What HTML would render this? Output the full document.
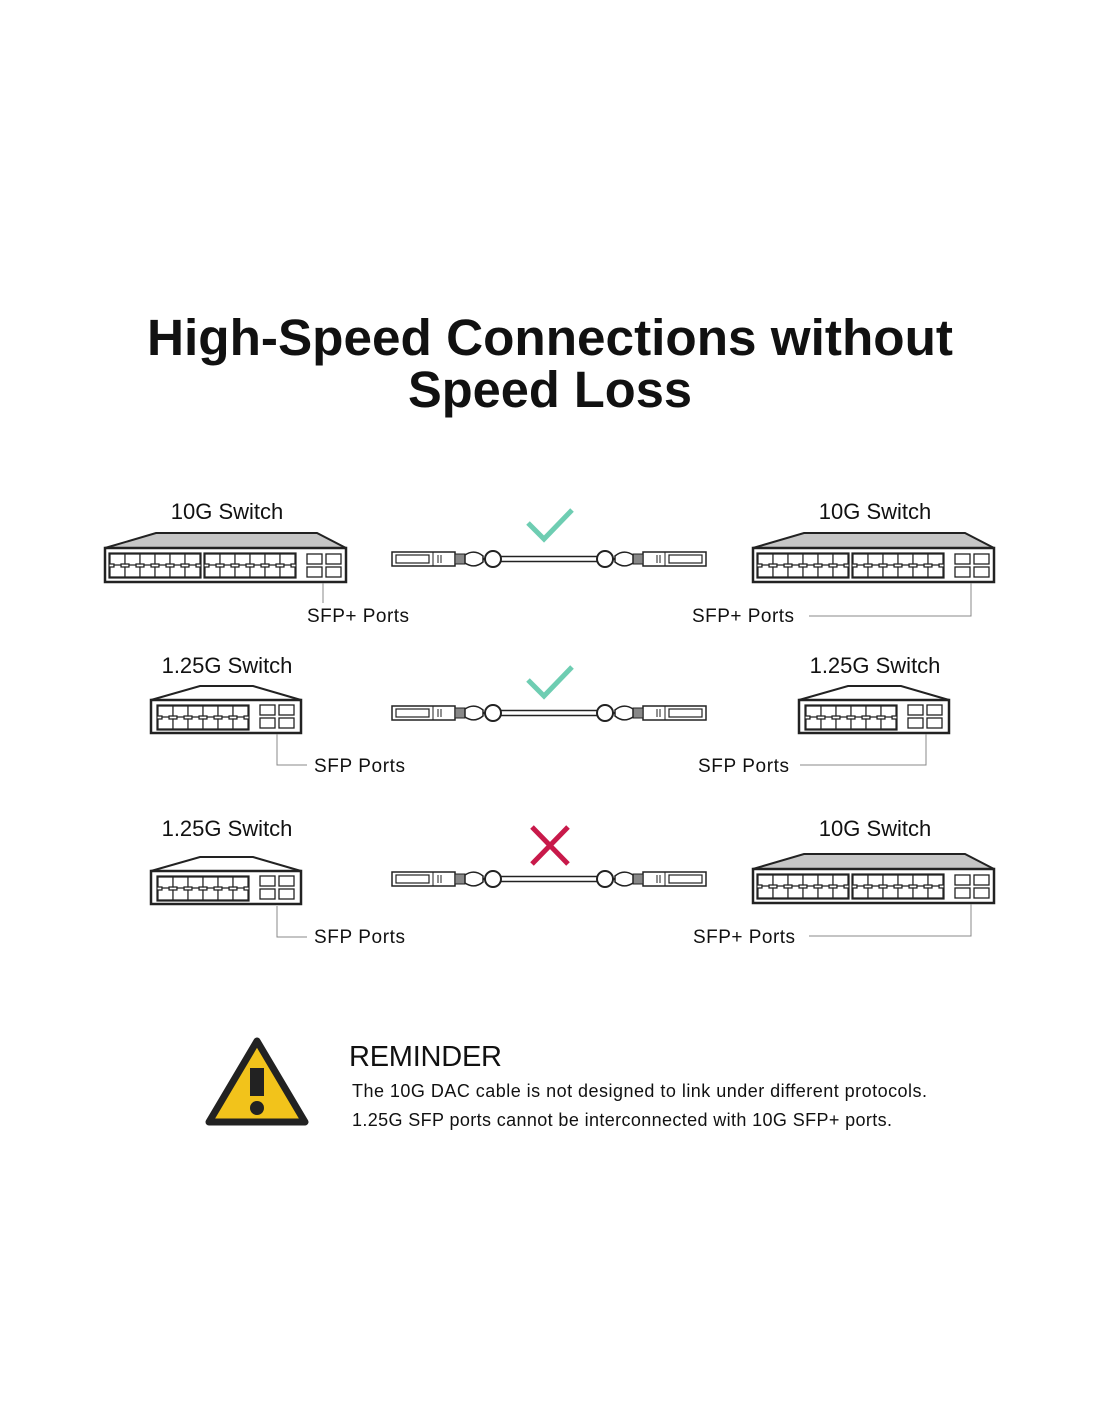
<!DOCTYPE html>
<html><head><meta charset="utf-8"><style>
html,body{margin:0;padding:0;background:#fff;}
body{width:1100px;height:1422px;overflow:hidden;}
svg text{font-family:"Liberation Sans",Arial,sans-serif;}
</style></head><body>
<svg width="1100" height="1422" viewBox="0 0 1100 1422" xmlns="http://www.w3.org/2000/svg">
<defs>
<g id="p"><path d="M0,0 h15 v10 h-4 v2 h-7 v-2 h-4 z" fill="#fff" stroke="#222" stroke-width="1.2"/></g>
<g id="p2"><path d="M0,11 h15 v-10 h-4 v-2 h-7 v2 h-4 z" fill="#fff" stroke="#222" stroke-width="1.2" transform="translate(0,1)"/></g>
<g id="grp6">
  <use href="#p" x="0" y="0"/><use href="#p" x="15" y="0"/><use href="#p" x="30" y="0"/><use href="#p" x="45" y="0"/><use href="#p" x="60" y="0"/><use href="#p" x="75" y="0"/>
  <use href="#p2" x="0" y="11"/><use href="#p2" x="15" y="11"/><use href="#p2" x="30" y="11"/><use href="#p2" x="45" y="11"/><use href="#p2" x="60" y="11"/><use href="#p2" x="75" y="11"/>
  <rect x="-1" y="-1" width="92" height="25" fill="none" stroke="#222" stroke-width="1.2"/>
</g>
<g id="sfp">
  <rect x="0" y="0" width="15" height="10" fill="#fff" stroke="#222" stroke-width="1.3"/>
  <rect x="19" y="0" width="15" height="10" fill="#fff" stroke="#222" stroke-width="1.3"/>
  <rect x="0" y="13" width="15" height="10" fill="#fff" stroke="#222" stroke-width="1.3"/>
  <rect x="19" y="13" width="15" height="10" fill="#fff" stroke="#222" stroke-width="1.3"/>
</g>
<g id="sw10">
  <path d="M1,0 L52,-15 L213,-15 L242,0 Z" fill="#c6c6c6" stroke="#222" stroke-width="2"/>
  <rect x="1" y="0" width="241" height="34" fill="#fff" stroke="#222" stroke-width="2.5"/>
  <use href="#grp6" x="6" y="6"/>
  <use href="#grp6" x="101" y="6"/>
  <use href="#sfp" x="203" y="6"/>
</g>
<g id="sw1">
  <path d="M1,0 L50,-14 L103,-14 L151,0 Z" fill="#fff" stroke="#222" stroke-width="2"/>
  <rect x="1" y="0" width="150" height="33" fill="#fff" stroke="#222" stroke-width="2.5"/>
  <use href="#grp6" x="8" y="6"/>
  <use href="#sfp" x="110" y="5"/>
</g>
<g id="half">
  <rect x="1" y="-7" width="63" height="14" fill="#fff" stroke="#222" stroke-width="1.5"/>
  <rect x="5" y="-4" width="33" height="8" fill="#fff" stroke="#222" stroke-width="1.2"/>
  <line x1="42" y1="-7" x2="42" y2="7" stroke="#222" stroke-width="1"/>
  <line x1="47" y1="-4" x2="47" y2="4" stroke="#222" stroke-width="1"/>
  <line x1="50" y1="-4" x2="50" y2="4" stroke="#222" stroke-width="1"/>
  <rect x="64" y="-5" width="10" height="10" fill="#888" stroke="#222" stroke-width="1"/>
  <path d="M74,-4 C80,-8 86,-8 92,-3 L92,3 C86,8 80,8 74,4 Z" fill="#fff" stroke="#222" stroke-width="1.5"/>
  <circle cx="102" cy="0" r="8" fill="#fff" stroke="#222" stroke-width="2"/>
  <line x1="92" y1="0" x2="94" y2="0" stroke="#222" stroke-width="2"/>
</g>
<g id="cable">
  <rect x="108" y="-2.5" width="100" height="5" fill="#fff" stroke="#222" stroke-width="1.5"/>
  <use href="#half"/>
  <use href="#half" transform="translate(316,0) scale(-1,1)"/>
</g>
<path id="chk" d="M0,16 L16,32 L44,3" fill="none" stroke="#6ecdb2" stroke-width="5"/>
</defs>

<text x="550" y="355" font-size="51" font-weight="bold" text-anchor="middle" fill="#111" textLength="806" lengthAdjust="spacingAndGlyphs">High-Speed Connections without</text>
<text x="550" y="407" font-size="51" font-weight="bold" text-anchor="middle" fill="#111" textLength="284" lengthAdjust="spacingAndGlyphs">Speed Loss</text>

<!-- Row 1 -->
<text x="227" y="519" font-size="22" text-anchor="middle" fill="#111">10G Switch</text>
<text x="875" y="519" font-size="22" text-anchor="middle" fill="#111">10G Switch</text>
<use href="#sw10" x="104" y="548"/>
<use href="#sw10" x="752" y="548"/>
<use href="#cable" x="391" y="559"/>
<use href="#chk" x="528" y="507"/>
<line x1="323" y1="583" x2="323" y2="603" stroke="#888" stroke-width="1"/>
<text x="307" y="622" font-size="19" fill="#111" textLength="102">SFP+ Ports</text>
<text x="692" y="622" font-size="19" fill="#111" textLength="102">SFP+ Ports</text>
<path d="M809,616 H971 V583" fill="none" stroke="#888" stroke-width="1"/>

<!-- Row 2 -->
<text x="227" y="673" font-size="22" text-anchor="middle" fill="#111">1.25G Switch</text>
<text x="875" y="673" font-size="22" text-anchor="middle" fill="#111">1.25G Switch</text>
<use href="#sw1" x="150" y="700"/>
<use href="#sw1" x="798" y="700"/>
<use href="#cable" x="391" y="713"/>
<use href="#chk" x="528" y="664"/>
<path d="M277,734 V765 H307" fill="none" stroke="#888" stroke-width="1"/>
<text x="314" y="772" font-size="19" fill="#111" textLength="91">SFP Ports</text>
<text x="698" y="772" font-size="19" fill="#111" textLength="91">SFP Ports</text>
<path d="M800,765 H926 V734" fill="none" stroke="#888" stroke-width="1"/>

<!-- Row 3 -->
<text x="227" y="836" font-size="22" text-anchor="middle" fill="#111">1.25G Switch</text>
<text x="875" y="836" font-size="22" text-anchor="middle" fill="#111">10G Switch</text>
<use href="#sw1" x="150" y="871"/>
<use href="#sw10" x="752" y="869"/>
<use href="#cable" x="391" y="879"/>
<path d="M532,827 L568,864 M568,827 L532,864" stroke="#c8194a" stroke-width="5"/>
<path d="M277,906 V937 H307" fill="none" stroke="#888" stroke-width="1"/>
<text x="314" y="943" font-size="19" fill="#111" textLength="91">SFP Ports</text>
<text x="693" y="943" font-size="19" fill="#111" textLength="102">SFP+ Ports</text>
<path d="M809,936 H971 V904" fill="none" stroke="#888" stroke-width="1"/>

<!-- Reminder -->
<path d="M257,1041 L305,1122 L209,1122 Z" fill="#f2c31b" stroke="#222" stroke-width="7" stroke-linejoin="round"/>
<rect x="250" y="1068" width="14" height="28" fill="#222"/>
<circle cx="257" cy="1108" r="7" fill="#222"/>
<text x="349" y="1066" font-size="29" fill="#111" textLength="153">REMINDER</text>
<text x="352" y="1097" font-size="18" fill="#111" textLength="575">The 10G DAC cable is not designed to link under different protocols.</text>
<text x="352" y="1126" font-size="18" fill="#111" textLength="540">1.25G SFP ports cannot be interconnected with 10G SFP+ ports.</text>
</svg>
</body></html>
